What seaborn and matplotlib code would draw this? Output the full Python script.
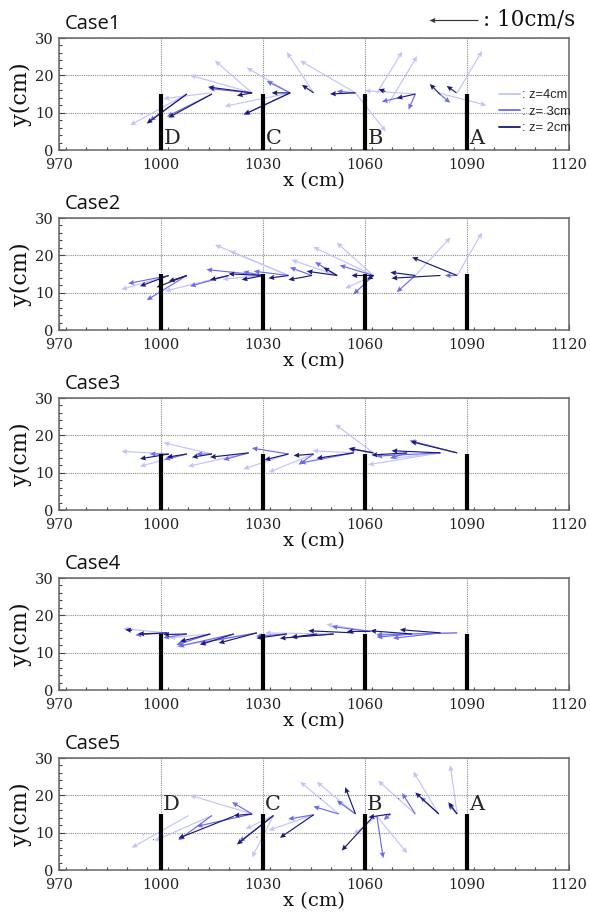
import matplotlib
matplotlib.use("Agg")
import matplotlib.pyplot as plt
import seaborn as sns
import pandas as pd
from matplotlib.lines import Line2D
from matplotlib.ticker import MultipleLocator

# ---------------- data ----------------
case_names = ["Case1", "Case2", "Case3", "Case4", "Case5"]
barrier_x = [1000, 1030, 1060, 1090]
barrier_labels = ["D", "C", "B", "A"]
barrier_h = 15
x_ticks = [970, 1000, 1030, 1060, 1090, 1120]
y_ticks = [0, 10, 20, 30]
level_names = ["z=4cm", "z= 3cm", "z= 2cm"]
level_colors = ["#c2c2ff", "#6a6af2", "#1a1a7c"]
key_speed = 10  # cm/s

# velocity vectors: (x0 [cm], y0 [cm], u [cm/s], v [cm/s])
case1_z4 = [(1087.1, 15.3, 5.1, 7.8), (1081.6, 15.3, 9.8, -2.3), (1063.5, 15.3, 5.2, 7.7),
            (1067.0, 12.5, 5.8, 8.8), (1074.8, 15.0, -10.3, 0.6), (1057.2, 15.3, -11.3, 6.0),
            (1057.2, 15.3, 6.2, -7.2), (1044.9, 15.3, -5.5, 7.6), (1038.0, 15.3, -13.4, -2.5),
            (1038.0, 15.3, -8.9, 4.7), (1026.8, 15.3, -7.6, 6.0), (1026.8, 15.3, -12.7, 3.3),
            (1014.5, 15.3, -9.6, -1.1), (1007.6, 15.0, -11.6, -5.8), (1090.0, 20.0, 0.2, 0.1)]
case1_z3 = [(1082.2, 14.8, 2.0, -1.5), (1074.8, 15.0, -1.4, -2.9), (1070.4, 14.1, -3.8, -0.8),
            (1057.2, 15.3, -3.8, 0.3), (1038.0, 15.3, -9.6, -4.1), (1038.0, 15.3, -4.8, 2.2),
            (1026.8, 15.3, -8.8, 0.8), (1015.0, 15.0, -9.2, -4.2), (1007.6, 15.0, -7.6, -5.0)]
case1_z2 = [(1086.9, 15.3, -2.0, 1.3), (1082.2, 14.8, -2.2, 2.0), (1074.8, 15.0, -3.8, -0.8),
            (1066.0, 15.7, -1.4, 0.4), (1057.2, 15.3, -5.2, -0.2), (1044.9, 15.3, -2.4, 1.5),
            (1038.0, 15.3, -3.8, 0.0), (1038.0, 15.3, -9.4, -4.0), (1026.8, 15.3, -3.1, -0.5),
            (1026.8, 15.3, -9.0, 1.1), (1015.0, 15.0, -8.9, -4.4), (1007.6, 15.0, -8.2, -5.5),
            (994.4, 9.6, 0.2, 0.1)]

case2_z4 = [(1087.1, 14.6, 5.1, 8.0), (1074.8, 14.6, 7.2, 7.1), (1062.5, 14.6, -5.8, -2.4),
            (1062.5, 14.6, -7.5, 6.1), (1062.5, 14.6, -12.3, 5.3), (1051.8, 14.6, -9.3, 2.9),
            (1037.5, 14.6, -12.0, 4.6), (1037.5, 14.6, -15.0, 5.7), (1019.9, 14.6, -13.0, -2.9),
            (1002.3, 14.6, -9.7, -2.6), (1030.2, 14.6, -8.4, -0.7)]
case2_z3 = [(1087.1, 14.6, -2.5, 0.0), (1074.8, 14.6, -3.8, -3.1), (1062.5, 14.6, -4.1, -3.5),
            (1062.5, 14.6, -6.9, 1.9), (1051.8, 14.6, -4.5, 2.5), (1044.4, 14.6, -4.5, 1.5),
            (1037.5, 14.6, -7.1, 0.8), (1030.2, 14.6, -11.7, 1.1), (1030.2, 14.6, -4.2, 0.7),
            (1019.9, 14.6, -7.9, -2.0), (1007.6, 14.6, -8.2, -4.6), (1002.3, 14.6, -8.3, -1.5)]
case2_z2 = [(1087.1, 14.6, -9.2, 3.4), (1082.2, 14.6, -10.0, -0.5), (1074.8, 14.6, -5.1, 0.6),
            (1062.5, 14.6, -1.3, -0.8), (1062.5, 14.6, -4.5, 0.0), (1051.8, 14.6, -2.8, 1.5),
            (1051.8, 14.6, -6.2, 0.8), (1044.4, 14.6, -4.8, -0.8), (1037.5, 14.6, -4.1, -0.5),
            (1030.2, 14.6, -4.5, -0.8), (1030.2, 14.6, -7.2, 0.3), (1019.9, 14.6, -3.8, -0.8),
            (1007.6, 14.6, -3.7, -1.1), (1007.6, 14.6, -6.2, -2.2), (1002.3, 14.6, -5.9, -2.0)]

case3_z4 = [(1082.2, 15.3, -14.8, -2.2), (1082.2, 15.3, -9.8, -1.0), (1062.5, 15.3, -7.8, 5.3),
            (1056.7, 15.3, -8.4, 0.4), (1044.9, 15.0, -9.2, -3.4), (1037.5, 15.0, -9.2, -2.8),
            (1025.8, 15.3, -12.4, -2.5), (1015.0, 15.0, -9.9, 2.1), (1007.6, 15.0, -9.6, -2.3),
            (1002.3, 15.0, -9.7, 0.5)]
case3_z3 = [(1087.1, 15.3, -9.7, 2.3), (1082.2, 15.3, -13.1, -0.6), (1072.4, 15.3, -3.5, -1.0),
            (1062.5, 15.3, -4.9, 0.9), (1056.7, 15.3, -11.0, -1.9), (1044.9, 15.0, -3.1, -2.0),
            (1037.5, 15.0, -7.5, 1.1), (1025.8, 15.3, -5.2, -1.3), (1015.0, 15.0, -3.2, 0.0),
            (1007.6, 15.0, -4.6, -1.0), (1002.3, 15.0, -3.9, 0.0)]
case3_z2 = [(1087.1, 15.3, -9.5, 2.1), (1082.2, 15.3, -10.0, 0.4), (1072.4, 15.3, -7.3, -0.4),
            (1062.5, 15.3, -5.1, 0.8), (1056.7, 15.3, -7.6, -1.0), (1044.9, 15.0, -4.1, -0.3),
            (1037.5, 15.0, -4.9, -1.1), (1025.8, 15.3, -7.9, -0.8), (1015.0, 15.0, -4.1, -0.6),
            (1007.6, 15.0, -4.1, -0.6), (1002.3, 15.0, -5.9, -0.9)]

case4_z4 = [(1087.1, 15.3, -16.5, -0.2), (1061.6, 15.7, -9.0, 1.3), (1050.8, 15.0, -14.0, 0.2),
            (1028.2, 15.3, -16.5, -2.5), (1001.8, 15.3, -9.0, 0.8), (1014.5, 15.0, -8.4, -0.7)]
case4_z3 = [(1087.1, 15.3, -16.5, -0.4), (1082.2, 15.3, -9.7, -1.0), (1073.8, 15.0, -7.2, -0.6),
            (1061.6, 15.7, -7.9, 0.9), (1050.8, 15.0, -8.8, -0.6), (1037.0, 15.0, -6.3, -0.4),
            (1028.2, 15.3, -11.6, -1.9), (1021.4, 15.0, -11.3, -2.3), (1014.5, 15.0, -6.9, -2.0),
            (1007.6, 15.0, -4.8, -0.7), (1001.8, 15.3, -6.5, -0.4)]
case4_z2 = [(1082.2, 15.3, -8.3, 0.6), (1073.8, 15.0, -8.5, 0.6), (1061.6, 15.7, -4.8, 0.0),
            (1056.7, 15.3, -9.3, 0.4), (1050.8, 15.0, -11.0, -0.8), (1045.9, 15.0, -5.2, -0.6),
            (1037.0, 15.0, -6.2, -0.8), (1028.2, 15.3, -7.8, -1.9), (1021.4, 15.0, -6.9, -2.0),
            (1014.5, 15.0, -6.2, -1.4), (1007.6, 15.0, -4.8, -0.1), (1001.8, 15.3, -5.9, -0.2),
            (991.5, 16.0, -1.4, 0.1)]

case5_z4 = [(1087.1, 15.0, -1.4, 9.1), (1081.7, 15.0, -5.2, 7.9), (1074.8, 15.0, -7.6, 6.2),
            (1063.5, 14.4, 6.2, -6.9), (1063.5, 14.4, -4.8, -3.4), (1057.2, 15.0, -7.9, 6.0),
            (1052.3, 15.0, -7.9, 6.0), (1044.9, 14.8, -9.2, -2.9), (1033.1, 14.6, -4.4, -7.8),
            (1026.8, 15.0, -12.7, 3.5), (1015.0, 14.6, -11.7, -4.7), (1008.1, 14.6, -11.6, -6.0),
            (1033.0, 14.6, -5.6, -2.5)]
case5_z3 = [(1087.1, 15.0, -1.8, 1.8), (1081.7, 15.0, -3.8, 3.2), (1074.8, 15.0, -2.7, 3.9),
            (1067.5, 15.0, -1.4, -1.1), (1063.5, 14.4, 1.3, -7.8), (1057.2, 15.0, -3.8, 2.5),
            (1052.3, 15.0, -5.2, 1.4), (1044.9, 14.8, -5.2, -0.8), (1033.1, 14.6, -7.0, -4.9),
            (1026.8, 15.0, -4.1, 2.2), (1026.8, 15.0, -11.3, -2.3), (1015.0, 14.6, -6.9, -4.6),
            (994.9, 9.5, 0.2, 0.1)]
case5_z2 = [(1087.1, 15.0, -1.8, 2.2), (1081.7, 15.0, -4.8, 4.0), (1069.9, 19.1, 0.2, 0.1),
            (1067.5, 15.0, -4.5, -0.6), (1062.5, 14.4, -6.5, -6.4), (1057.2, 15.0, -2.1, 5.0),
            (1046.9, 19.1, 0.2, 0.1), (1044.9, 14.8, -6.9, -4.3), (1033.1, 14.6, -7.5, -5.4),
            (1026.8, 15.0, -3.8, -0.3), (1021.4, 14.4, -11.3, -4.1), (997.8, 8.1, 0.2, 0.1),
            (1028.2, 8.8, 0.2, 0.1)]

cases = [
    [case1_z4, case1_z3, case1_z2],
    [case2_z4, case2_z3, case2_z2],
    [case3_z4, case3_z3, case3_z2],
    [case4_z4, case4_z3, case4_z2],
    [case5_z4, case5_z3, case5_z2],
]

# ---------------- style ----------------
sns.set_theme(style="ticks")
plt.rcParams["font.family"] = ["DejaVu Serif", "DejaVu Sans"]
plt.rcParams["axes.edgecolor"] = "#666666"
plt.rcParams["axes.linewidth"] = 1.1

W, H = 590, 918
fig = plt.figure(figsize=(W / 100, H / 100), dpi=100)

vel_scale = 10 / 14.4  # cm/s per cm of plot length

first_q = None
for i, (name, levels) in enumerate(zip(case_names, cases)):
    top = 38 + 180 * i
    bot = 150 + 180 * i
    ax = fig.add_axes([59 / W, 1 - bot / H, (569 - 59) / W, (bot - top) / H])
    ax.set_xlim(x_ticks[0], x_ticks[-1])
    ax.set_ylim(y_ticks[0], y_ticks[-1])
    ax.set_xticks(x_ticks)
    ax.set_yticks(y_ticks)
    ax.xaxis.set_minor_locator(MultipleLocator(6))
    ax.yaxis.set_minor_locator(MultipleLocator(2))
    ax.tick_params(which="both", direction="in", top=False, right=False,
                   colors="#444444", labelcolor="#222222", labelsize=10.5)
    ax.tick_params(axis="x", which="major", pad=6)
    ax.tick_params(axis="y", which="major", pad=4)
    ax.tick_params(which="major", length=4, width=0.8)
    ax.tick_params(which="minor", length=2.5, width=0.8)
    ax.grid(True, which="major", linestyle=(0, (1, 1)), color="#8a8a8a", linewidth=0.8)
    ax.set_axisbelow(True)

    for data, col in zip(levels, level_colors):
        df = pd.DataFrame(data, columns=["x", "y", "u", "v"])
        q = ax.quiver(df["x"], df["y"], df["u"], df["v"], color=col,
                      angles="xy", scale_units="xy", scale=vel_scale,
                      width=0.0023, headwidth=4.5, headlength=5, headaxislength=4.5,
                      zorder=3)
        if first_q is None:
            first_q = q

    ax.vlines(barrier_x, 0, barrier_h, colors="black", linewidth=3, zorder=4)

    if i == 0:
        for bx, lab in zip(barrier_x, barrier_labels):
            ax.text(bx + 0.7, 0.6, lab, fontsize=15, va="bottom", ha="left", zorder=5)
    if i == 4:
        for bx, lab in zip(barrier_x, barrier_labels):
            ax.text(bx + 0.5, 15.0, lab, fontsize=15, va="bottom", ha="left", zorder=5)

    ax.text(0.012, 1.04, name, transform=ax.transAxes, fontsize=14.5,
            family="Open Sans", va="bottom", ha="left", color="#111111")
    ax.set_xlabel("x (cm)", fontsize=14, labelpad=0, color="#111111")
    ax.set_ylabel("y(cm)", fontsize=16, labelpad=2, color="#111111")

    if i == 0:
        handles = [Line2D([0], [0], color=c, lw=1.3) for c in level_colors]
        ax.legend(handles, [": " + n for n in level_names], loc="upper left",
                  bbox_to_anchor=(0.85, 0.6), frameon=False, handlelength=1.6,
                  handletextpad=0.2, labelspacing=0.35, borderpad=0,
                  prop={"family": "Liberation Sans", "size": 9.3})

# reference arrow
fig.axes[0].quiverkey(first_q, X=478 / W, Y=1 - 20 / H, U=key_speed, label="",
                      angle=180, labelpos="W", coordinates="figure", color="#333333")
fig.text(483 / W, 1 - 20 / H, ": %dcm/s" % key_speed, fontsize=15.5,
         va="center", ha="left", color="#111111")

fig.savefig("out.png", dpi=100)
